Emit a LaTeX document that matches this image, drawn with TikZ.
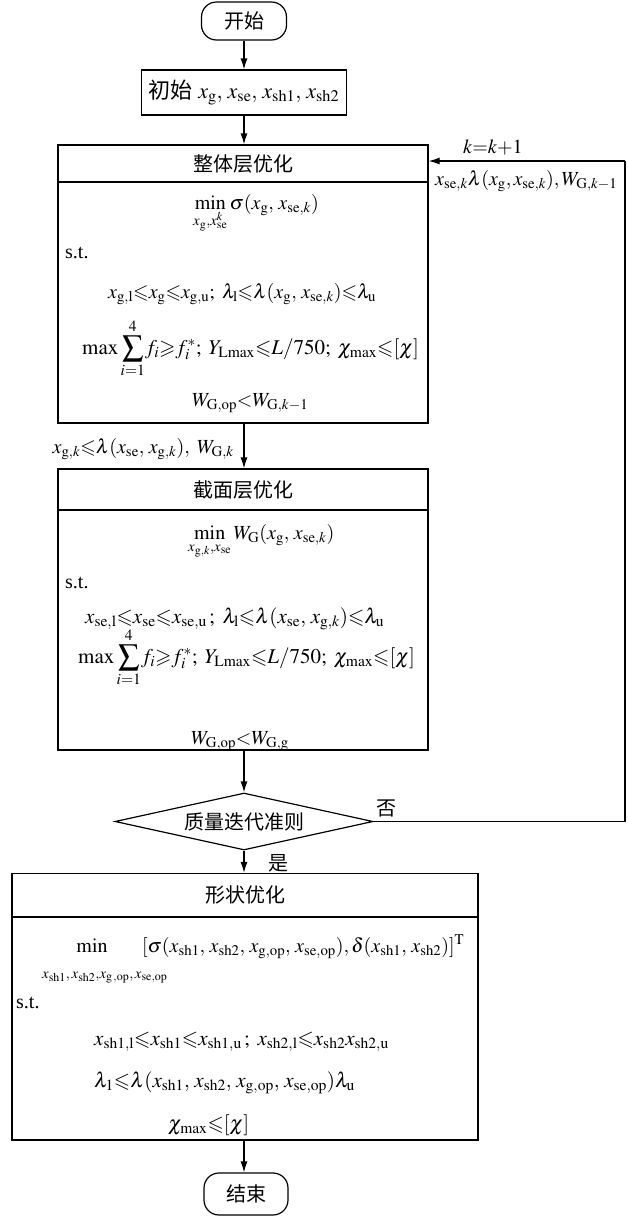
\documentclass[tikz,border=0pt]{standalone}
\usepackage{amsmath,amssymb}
\usepackage{mathptmx}
\usepackage[no-math]{fontspec}
\setmainfont{Liberation Serif}
\newfontfamily\cjk{Noto Sans CJK SC}
\usetikzlibrary{arrows.meta,shapes.geometric}
\newcommand{\rmm}[1]{\mathrm{#1}}
\newcommand{\sumfour}{\smash{\displaystyle\sum_{i=1}^{4}}\vphantom{\sum}}
\begin{document}
\begin{tikzpicture}[x=1pt,y=-1pt,
  every node/.style={font=\fontsize{20}{24}\selectfont},
  big/.style={font=\fontsize{21}{25}\selectfont},
  box/.style={draw,line width=1.2pt,inner sep=0pt},
  term/.style={draw,line width=1.2pt,rounded corners=15pt,inner sep=0pt},
  cond/.style={draw,line width=1.2pt,diamond,aspect=4.5,inner sep=0pt,minimum width=258pt,minimum height=57pt},
  txt/.style={inner sep=0pt,anchor=base west},
  flow/.style={line width=1.2pt,-{Latex[length=11pt,width=7pt]}},
  wire/.style={line width=1.2pt}]
\useasboundingbox (0,0) rectangle (628,1216);
% start / init
\node[term,minimum width=85pt,minimum height=38pt] (start) at (244,21) {\cjk 开始};
\node[box,minimum width=205pt,minimum height=45pt,font=\fontsize{22}{26}\selectfont] (init) at (244,92.5)
  {{\cjk 初始} $x_{\rmm{g}},\,x_{\rmm{se}},\,x_{\rmm{sh1}},\,x_{\rmm{sh2}}$};
% box 1
\node[box,minimum width=370pt,minimum height=37pt] (b1h) at (243,163.5) {\cjk 整体层优化};
\node[box,minimum width=370pt,minimum height=241pt] (b1b) at (243,302.5) {};
\node[txt] (b1min) at (193,209) {$\displaystyle\min_{x_{\rmm{g}},x_{\rmm{se}}^{k}}\sigma(x_{\rmm{g}},\,x_{\rmm{se},k})$};
\node[txt] (b1st) at (65,258) {s.t.};
\node[txt] (b1c1) at (108,298) {$x_{\rmm{g,l}}{\leqslant}x_{\rmm{g}}{\leqslant}x_{\rmm{g,u}};\ \lambda_{\rmm{l}}{\leqslant}\lambda(x_{\rmm{g}},\,x_{\rmm{se},k}){\leqslant}\lambda_{\rmm{u}}$};
\node[txt,big] (b1c2) at (82,354) {$\max\sumfour f_i{\geqslant}f_i^{*};\;Y_{\rmm{Lmax}}{\leqslant}L/750;\;\chi_{\rmm{max}}{\leqslant}[\chi]$};
\node[txt] (b1w) at (192,406) {$W_{\rmm{G,op}}{<}W_{\rmm{G},k-1}$};
% box 2
\node[box,minimum width=370pt,minimum height=41pt] (b2h) at (243,489.5) {\cjk 截面层优化};
\node[box,minimum width=370pt,minimum height=240pt] (b2b) at (243,630) {};
\node[txt] (b2min) at (188,539) {$\displaystyle\min_{x_{\rmm{g},k},x_{\rmm{se}}} W_{\rmm{G}}(x_{\rmm{g}},\,x_{\rmm{se},k})$};
\node[txt] (b2st) at (65,588) {s.t.};
\node[txt,big] (b2c1) at (85,623) {$x_{\rmm{se,l}}{\leqslant}x_{\rmm{se}}{\leqslant}x_{\rmm{se,u}}\,;\ \lambda_{\rmm{l}}{\leqslant}\lambda(x_{\rmm{se}},\,x_{\rmm{g},k}){\leqslant}\lambda_{\rmm{u}}$};
\node[txt,big] (b2c2) at (78,663) {$\max\sumfour f_i{\geqslant}f_i^{*};\;Y_{\rmm{Lmax}}{\leqslant}L/750;\;\chi_{\rmm{max}}{\leqslant}[\chi]$};
\node[txt] (b2w) at (191,744) {$W_{\rmm{G,op}}{<}W_{\rmm{G,g}}$};
% decision
\node[cond] (dec) at (244,821.5) {\cjk 质量迭代准则};
% box 3
\node[box,minimum width=466pt,minimum height=43pt] (b3h) at (245,895) {\cjk 形状优化};
\node[box,minimum width=466pt,minimum height=223pt] (b3b) at (245,1028.5) {};
\node[inner sep=0pt,anchor=base] (b3min) at (92,952) {$\min$};
\node[txt] (b3sub) at (42,978) {$\scriptstyle x_{\rmm{sh1}},\,x_{\rmm{sh2}},x_{\rmm{g\,,op}},\,x_{\rmm{se,op}}$};
\node[txt] (b3obj) at (142,952) {$[\sigma(x_{\rmm{sh1}},\,x_{\rmm{sh2}},\,x_{\rmm{g,op}},\,x_{\rmm{se,op}}),\delta(x_{\rmm{sh1}},\,x_{\rmm{sh2}})]^{\rmm{T}}$};
\node[txt] (b3st) at (16,1008) {s.t.};
\node[txt,big] (b3c1) at (94,1045) {$x_{\rmm{sh1,l}}{\leqslant}x_{\rmm{sh1}}{\leqslant}x_{\rmm{sh1,u}}\,;\ x_{\rmm{sh2,l}}{\leqslant}x_{\rmm{sh2}}x_{\rmm{sh2,u}}$};
\node[txt,big] (b3c2) at (94,1087) {$\lambda_1{\leqslant}\lambda(x_{\rmm{sh1}},\,x_{\rmm{sh2}},\,x_{\rmm{g,op}},\,x_{\rmm{se,op}})\lambda_{\rmm{u}}$};
\node[txt,big] (b3c3) at (168,1130) {$\chi_{\max}{\leqslant}[\chi]$};
% end
\node[term,minimum width=84pt,minimum height=42pt] (end) at (246,1194) {\cjk 结束};
% labels
\node[inner sep=0pt,anchor=base east] (lab12) at (234,453) {$x_{\rmm{g},k}{\leqslant}\lambda(x_{\rmm{se}},\,x_{\rmm{g},k}),\ W_{\rmm{G},k}$};
\node[txt] (labk) at (463,153) {$k{=}k{+}1$};
\node[txt] (labx) at (435,185) {$x_{\rmm{se},k}\lambda(x_{\rmm{g}},x_{\rmm{se},k}),W_{\rmm{G},k-1}$};
\node[inner sep=0pt] (no) at (386,808) {\cjk 否};
\node[inner sep=0pt] (yes) at (278,863) {\cjk 是};
\coordinate (c1) at (625,821.5);
\coordinate (c2) at (625,161);
% connectors
\draw[flow] (start) -- (init);
\draw[flow] (init.south) -- (init.south|-b1h.north);
\draw[flow] (b1b.south-|init.south) -- (init.south|-b2h.north);
\draw[flow] (b2b.south-|init.south) -- (dec.north);
\draw[flow] (dec.south) -- (dec.south|-b3h.north);
\draw[flow] (b3b.south-|dec.south) -- (end.north-|dec.south);
\draw[wire] (dec.east) -- (c1) -- (c2);
\draw[flow] (c2) -- (c2-|b1h.east);
\end{tikzpicture}
\end{document}
